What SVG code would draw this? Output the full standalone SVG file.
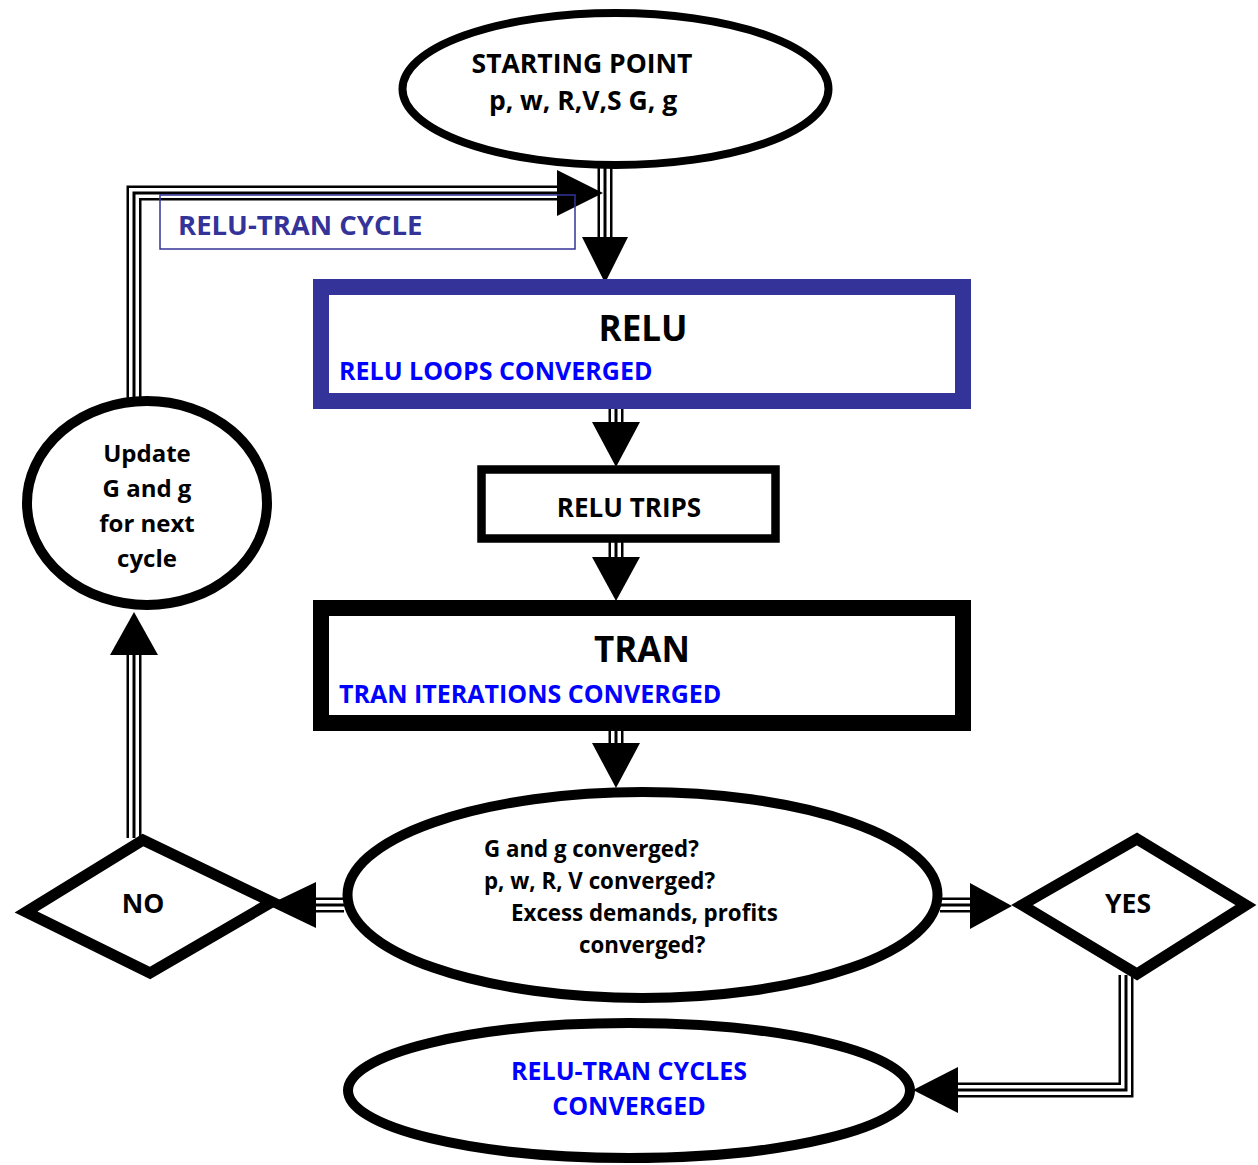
<svg xmlns="http://www.w3.org/2000/svg" width="1258" height="1165" viewBox="0 0 1258 1165">
<style>
  text { font-family: "Open Sans", "Noto Sans", "Liberation Sans", sans-serif; font-weight: bold; fill: #000; }
  .blue { fill: #0000FF; }
  .navy { fill: #333399; }
  .mid { text-anchor: middle; }
  .node { fill: #fff; stroke: #000; }
  .c1 { fill: none; stroke: #000; stroke-width: 15; stroke-linejoin: miter; }
  .c2 { fill: none; stroke: #fff; stroke-width: 10; stroke-linejoin: miter; }
  .c3 { fill: none; stroke: #000; stroke-width: 3; stroke-linejoin: miter; }
  .arrow { fill: #000; stroke: none; }
</style>
<defs>
  <path id="p1" d="M605,168 V240"/>
  <path id="p2" d="M134,400 V193 H560"/>
  <path id="p3" d="M616,409 V426"/>
  <path id="p4" d="M616,542 V560"/>
  <path id="p5" d="M616,730 V746"/>
  <path id="p6" d="M344,905 H312"/>
  <path id="p7" d="M940,905 H973"/>
  <path id="p8" d="M1126,975 V1090 H955"/>
  <path id="p9" d="M134,838 V652"/>
</defs>

<g id="connectors">
  <g class="c1"><use href="#p1"/><use href="#p2"/><use href="#p3"/><use href="#p4"/><use href="#p5"/><use href="#p6"/><use href="#p7"/><use href="#p8"/><use href="#p9"/></g>
  <g class="c2"><use href="#p1"/><use href="#p2"/><use href="#p3"/><use href="#p4"/><use href="#p5"/><use href="#p6"/><use href="#p7"/><use href="#p8"/><use href="#p9"/></g>
  <g class="c3"><use href="#p1"/><use href="#p2"/><use href="#p3"/><use href="#p4"/><use href="#p5"/><use href="#p6"/><use href="#p7"/><use href="#p8"/><use href="#p9"/></g>
  <polygon class="arrow" points="582,237 628,237 605,283"/>
  <polygon class="arrow" points="557,170 557,216 603,193"/>
  <polygon class="arrow" points="592,422 640,422 616,467"/>
  <polygon class="arrow" points="592,557 640,557 616,601"/>
  <polygon class="arrow" points="592,743 640,743 616,788"/>
  <polygon class="arrow" points="316,882 316,928 268,905"/>
  <polygon class="arrow" points="970,883 970,929 1012,906"/>
  <polygon class="arrow" points="958,1067 958,1113 913,1090"/>
  <polygon class="arrow" points="110,655 158,655 134,612"/>
</g>

<g id="label-cycle">
  <rect x="160" y="195" width="415" height="54" fill="none" stroke="#333399" stroke-width="1.5"/>
  <text class="navy" x="178" y="235" font-size="27.5">RELU-TRAN CYCLE</text>
</g>

<g id="start">
  <ellipse class="node" cx="615.5" cy="89" rx="213" ry="76" stroke-width="8"/>
  <text class="mid" x="582" y="73" font-size="26.5">STARTING POINT</text>
  <text class="mid" x="583" y="110" font-size="26.5">p, w, R,V,S G, g</text>
</g>

<g id="relu">
  <rect x="321" y="287" width="642" height="114" fill="#fff" stroke="#333399" stroke-width="16"/>
  <text class="mid" x="643" y="341" font-size="35">RELU</text>
  <text class="blue" x="339" y="380" font-size="25">RELU LOOPS CONVERGED</text>
</g>

<g id="relu-trips">
  <rect class="node" x="481.5" y="469.5" width="294" height="69" stroke-width="8.5"/>
  <text class="mid" x="629" y="517" font-size="26">RELU TRIPS</text>
</g>

<g id="tran">
  <rect class="node" x="321" y="608" width="642" height="115" stroke-width="16"/>
  <text class="mid" x="642" y="662" font-size="35">TRAN</text>
  <text class="blue" x="339" y="703" font-size="25">TRAN ITERATIONS CONVERGED</text>
</g>

<g id="check">
  <ellipse class="node" cx="642.5" cy="895" rx="295" ry="103" stroke-width="10"/>
  <text x="484" y="857" font-size="22.3">G and g converged?</text>
  <text x="484" y="889" font-size="22.3">p, w, R, V converged?</text>
  <text x="511" y="921" font-size="22.3">Excess demands, profits</text>
  <text x="579" y="953" font-size="22.3">converged?</text>
</g>

<g id="update">
  <ellipse class="node" cx="147" cy="503" rx="120" ry="102" stroke-width="10"/>
  <text class="mid" x="147" y="462" font-size="24">Update</text>
  <text class="mid" x="147" y="497" font-size="24">G and g</text>
  <text class="mid" x="147" y="532" font-size="24">for next</text>
  <text class="mid" x="147" y="567" font-size="24">cycle</text>
</g>

<g id="no">
  <polygon class="node" points="26,912 143,840 272,902 150,973" stroke-width="11"/>
  <text class="mid" x="143" y="913" font-size="26.5">NO</text>
</g>

<g id="yes">
  <polygon class="node" points="1022,905 1137,839 1246,905 1137,974" stroke-width="11"/>
  <text class="mid" x="1128" y="913" font-size="26.5">YES</text>
</g>

<g id="done">
  <ellipse class="node" cx="629" cy="1090.5" rx="281" ry="67.5" stroke-width="10"/>
  <text class="blue mid" x="629" y="1080" font-size="25">RELU-TRAN CYCLES</text>
  <text class="blue mid" x="629" y="1115" font-size="25">CONVERGED</text>
</g>
</svg>
